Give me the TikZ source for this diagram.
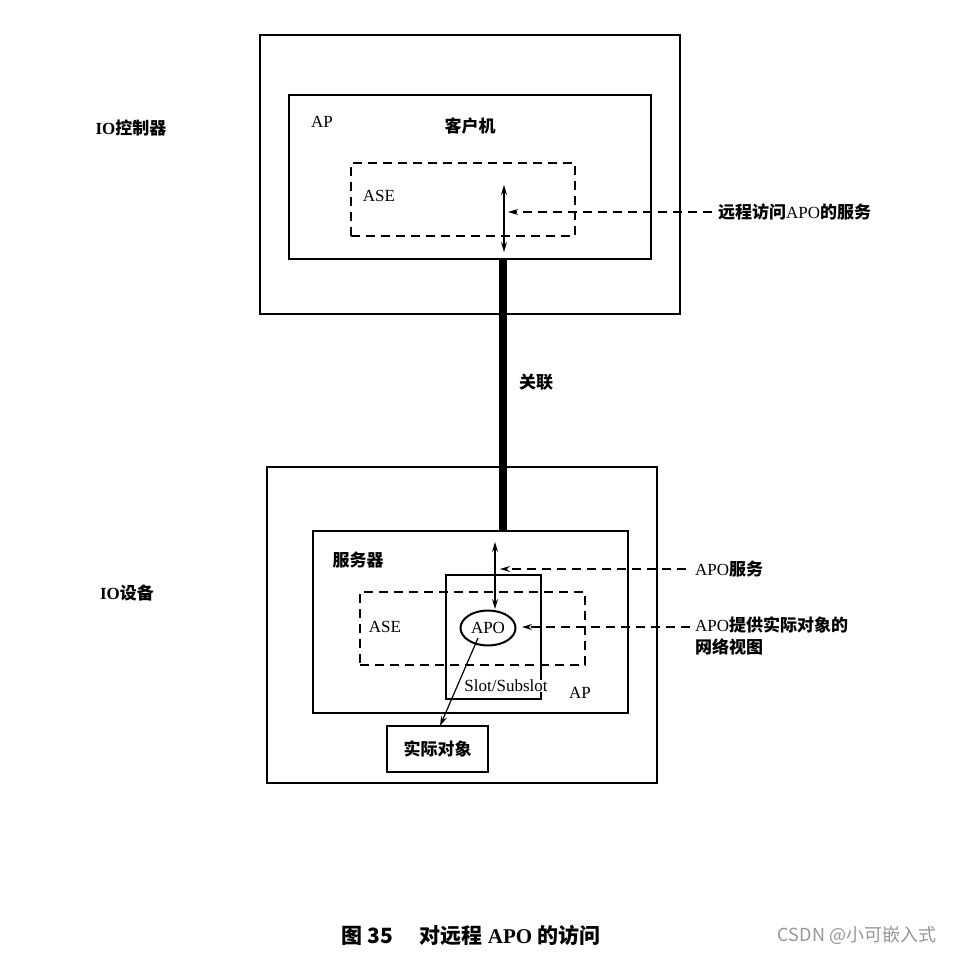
\documentclass[tikz,border=0pt]{standalone}
\usepackage{fontspec}
\setmainfont{Liberation Serif}
\newfontfamily\cjk{Noto Sans CJK SC}
\newcommand\zhb[1]{{\cjk\bfseries #1}}
\usetikzlibrary{arrows.meta,shapes.geometric}
\definecolor{wm}{RGB}{150,150,150}
\begin{document}
\begin{tikzpicture}[x=1pt,y=-1pt,
  box/.style={draw,line width=1.9pt,inner sep=0pt,outer sep=0pt},
  dbox/.style={draw,line width=1.3pt,dash pattern=on 9pt off 6pt,inner sep=0pt,outer sep=0pt},
  lbl/.style={inner sep=1pt,font=\fontsize{17}{20}\selectfont},
  arr/.style={line width=1.2pt,-{Stealth[length=10pt,width=6pt]}},
  darr/.style={line width=1.2pt,dash pattern=on 9pt off 6pt,-{Stealth[length=10pt,width=6pt]}},
  dblarr/.style={line width=1.2pt,{Stealth[length=10pt,width=6pt]}-{Stealth[length=10pt,width=6pt]}}]
\useasboundingbox (0,0) rectangle (957,957);
% top part
\node[box,minimum width=420pt,minimum height=279pt] (topOuter) at (470,174.5) {};
\node[box,minimum width=362pt,minimum height=164pt] (topAP) at (470,177) {};
\node[dbox,minimum width=224pt,minimum height=73pt] (topASE) at (463,199.5) {};
\node[lbl] (ioc) at (131,128) {\textbf{IO}\zhb{控制器}};
\node[lbl] (apT) at (322,122) {AP};
\node[lbl] (client) at (470,126) {\zhb{客户机}};
\node[lbl] (aseT) at (379,196) {ASE};
\node[lbl,anchor=west] (remote) at (717,212) {\zhb{远程访问}APO\zhb{的服务}};
\coordinate (ta1) at (504,185);
\coordinate (ta2) at (504,252);
\coordinate (ta3) at (508,212);
\draw[dblarr] (ta1) -- (ta2);
\draw[darr] ([xshift=-5pt]remote.west) -- (ta3);
% link
\coordinate (lk) at (503,0);
\node[box,minimum width=315pt,minimum height=182pt] (server) at (470.5,622) {};
\draw[line width=8pt] (lk |- topAP.south) -- (lk |- server.north);
\node[lbl] (assoc) at (536,382) {\zhb{关联}};
% bottom part
\node[box,minimum width=390pt,minimum height=316pt] (botOuter) at (462,625) {};
\node[box,minimum width=95pt,minimum height=124pt] (slot) at (493.5,637) {};
\node[dbox,minimum width=225pt,minimum height=73pt] (botASE) at (472.5,628.5) {};
\node[lbl] (iod) at (127,593) {\textbf{IO}\zhb{设备}};
\node[lbl] (srv) at (358,560) {\zhb{服务器}};
\node[lbl] (aseB) at (385,627) {ASE};
\node[draw,ellipse,line width=2pt,fill=white,minimum width=55pt,minimum height=35pt,inner sep=0pt,font=\fontsize{17}{20}\selectfont] (apo) at (488,628) {APO};
\node[lbl,fill=white,inner sep=0pt] (slotlbl) at (506,686) {Slot/Subslot};
\node[lbl] (apB) at (580,693) {AP};
\node[box,minimum width=101pt,minimum height=46pt,font=\fontsize{17}{20}\selectfont] (obj) at (437.5,749) {\zhb{实际对象}};
\node[lbl,anchor=west] (svc) at (694,569) {APO\zhb{服务}};
\node[lbl,anchor=north west,align=left,font=\fontsize{17}{22}\selectfont] (view) at (694,615) {APO\zhb{提供实际对象的}\\\zhb{网络视图}};
\coordinate (ba1) at (495,542);
\coordinate (ba2) at (495,609);
\coordinate (ba3) at (500,569);
\coordinate (ba4) at (522,627);
\coordinate (a0) at (478,638);
\coordinate (ob) at (440,726);
\draw[dblarr] (ba1) -- (ba2);
\draw[darr] ([xshift=-8pt]svc.west) -- (ba3);
\draw[darr] ([xshift=-4pt]view.west |- ba4) -- (ba4);
\draw[arr] (a0) -- (ob);
% caption
\node[inner sep=0pt,font=\fontsize{21}{25}\selectfont] (cap) at (471,935) {\zhb{图}\ {\cjk\bfseries 35}\quad\ \zhb{对远程}\ \textbf{APO}\ \zhb{的访问}};
\node[inner sep=0pt,text=wm,font=\fontsize{18}{21}\selectfont] (wmark) at (857,935) {{\cjk CSDN @小可嵌入式}};
\end{tikzpicture}
\end{document}
